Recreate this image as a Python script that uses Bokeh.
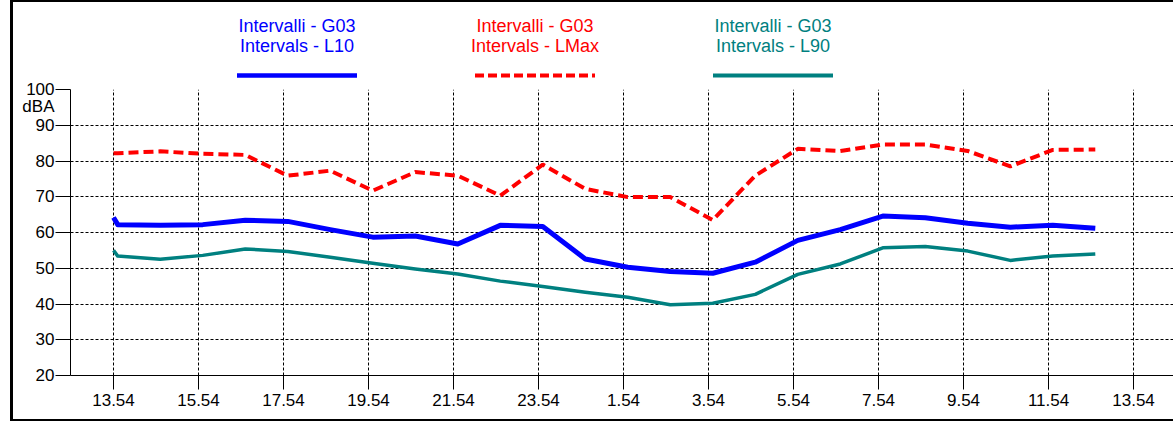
from bokeh.plotting import figure
from bokeh.models import Range1d, FixedTicker, LinearAxis
from bokeh.layouts import column
from bokeh.embed import file_html
from bokeh.resources import INLINE
from bokeh.core.properties import value

# ---- data ----
times = ["13:54", "14:00", "15:00", "16:00", "17:00", "18:00", "19:00", "20:00",
         "21:00", "22:00", "23:00", "0:00", "1:00", "2:00", "3:00", "4:00", "5:00",
         "6:00", "7:00", "8:00", "9:00", "10:00", "11:00", "12:00", "13:00"]
l10 = [64.2, 62.2, 62.0, 62.2, 63.4, 63.1, 60.8, 58.7, 59.0, 56.8, 62.0, 61.7, 52.6,
       50.3, 49.1, 48.6, 51.7, 57.8, 60.8, 64.6, 64.1, 62.6, 61.5, 62.0, 61.2]
lmax = [82.2, 82.2, 82.7, 82.0, 81.7, 75.9, 77.3, 71.7, 76.9, 75.9, 70.3, 79.0, 72.2,
        69.9, 69.9, 63.5, 75.9, 83.4, 82.8, 84.6, 84.6, 82.8, 78.5, 83.1, 83.2]
l90 = [55.0, 53.4, 52.5, 53.6, 55.4, 54.7, 53.1, 51.4, 49.8, 48.4, 46.4, 44.9, 43.3,
       41.9, 39.8, 40.2, 42.7, 48.3, 51.2, 55.7, 56.1, 54.8, 52.2, 53.4, 54.0]
x_tick_labels = ["13.54", "15.54", "17.54", "19.54", "21.54", "23.54", "1.54", "3.54",
                 "5.54", "7.54", "9.54", "11.54", "13.54"]
y_ticks = [20, 30, 40, 50, 60, 70, 80, 90, 100]
y_unit = "dBA"
y_unit_pos = 95.3
legend_top = ["Intervalli - G03", "Intervalli - G03", "Intervalli - G03"]
legend_bottom = ["Intervals - L10", "Intervals - LMax", "Intervals - L90"]
colors = ["#0000ff", "#ff0000", "#008080"]

FONT = "Liberation Sans"


def hours(t):
    h, m = map(int, t.split(":"))
    return ((h * 60 + m - (13 * 60 + 54)) % 1440) / 60.0


xs = [hours(t) for t in times]
x_ticks = [2 * i for i in range(len(x_tick_labels))]

W = 1160          # width of both figures
BL = 57           # left border (axis area)

# ---- legend strip (coordinates in page pixels) ----
leg = figure(width=W, height=78, x_range=Range1d(70, 1173), y_range=Range1d(80, 2),
             x_axis_type=None, y_axis_type=None, toolbar_location=None,
             output_backend="svg", min_border_left=BL, min_border_right=0,
             min_border_top=0, min_border_bottom=0)
leg.outline_line_color = None
leg.grid.visible = False
centers = [296.5, 534.5, 772.5]
dashes = ["solid", "9 4", "solid"]
widths = [4.5, 4, 4]
for cx, c, t1, t2, d, w in zip(centers, colors, legend_top, legend_bottom, dashes, widths):
    leg.text(x=[cx], y=[25], text=[t1], text_color=c, text_font=value(FONT),
             text_font_size="18px", text_align="center", text_baseline="middle")
    leg.text(x=[cx], y=[45], text=[t2], text_color=c, text_font=value(FONT),
             text_font_size="18px", text_align="center", text_baseline="middle")
    leg.line(x=[cx - 60, cx + 60], y=[75, 75], line_color=c, line_width=w, line_dash=d)

# ---- main chart ----
p = figure(width=W, height=339, x_range=Range1d(-1.012, 24.94), y_range=Range1d(20, 100),
           toolbar_location=None, output_backend="svg",
           min_border_left=BL, min_border_right=0, min_border_top=9, min_border_bottom=44)
p.outline_line_color = None
p.background_fill_color = "white"

p.line(xs, lmax, line_color=colors[1], line_width=4, line_dash="10 5")
p.line(xs, l10, line_color=colors[0], line_width=5, line_join="round")
p.line(xs, l90, line_color=colors[2], line_width=3.5, line_join="round")

p.xaxis.ticker = FixedTicker(ticks=x_ticks)
p.xaxis.major_label_overrides = {t: lab for t, lab in zip(x_ticks, x_tick_labels)}
p.xaxis.minor_tick_line_color = None
p.xaxis.major_tick_in = 0
p.xaxis.major_tick_out = 14
p.xaxis.major_label_standoff = 4
p.xaxis.axis_line_color = "black"
p.xaxis.major_tick_line_color = "black"
p.xaxis.major_label_text_font = FONT
p.xaxis.major_label_text_font_size = "17px"
p.xaxis.major_label_text_color = "black"

# inner y axis: axis line and tick marks only
p.yaxis.ticker = FixedTicker(ticks=y_ticks)
p.yaxis.major_label_overrides = {t: "" for t in y_ticks}
p.yaxis.minor_tick_line_color = None
p.yaxis.major_tick_in = 0
p.yaxis.major_tick_out = 15
p.yaxis.major_label_standoff = 0
p.yaxis.axis_line_color = "black"
p.yaxis.major_tick_line_color = "black"

# outer y axis: the tick labels and the unit
lab_axis = LinearAxis(ticker=FixedTicker(ticks=y_ticks + [y_unit_pos]))
lab_axis.major_label_overrides = {y_unit_pos: y_unit}
lab_axis.axis_line_color = None
lab_axis.major_tick_line_color = None
lab_axis.minor_tick_line_color = None
lab_axis.major_tick_in = 0
lab_axis.major_tick_out = 0
lab_axis.major_label_standoff = 1
lab_axis.major_label_text_font = FONT
lab_axis.major_label_text_font_size = "17px"
lab_axis.major_label_text_color = "black"
p.add_layout(lab_axis, "left")

p.xgrid.ticker = FixedTicker(ticks=x_ticks)
p.ygrid.ticker = FixedTicker(ticks=y_ticks)
for g in (p.xgrid, p.ygrid):
    g.grid_line_color = "black"
    g.grid_line_dash = "3 2"
    g.grid_line_width = 1
    g.grid_line_alpha = 1.0

layout = column(leg, p, styles={"margin-left": "10px",
                                "border-left": "3px solid black",
                                "border-top": "2px solid black",
                                "border-bottom": "2px solid black"})

with open("out.html", "w") as f:
    f.write(file_html(layout, INLINE))
